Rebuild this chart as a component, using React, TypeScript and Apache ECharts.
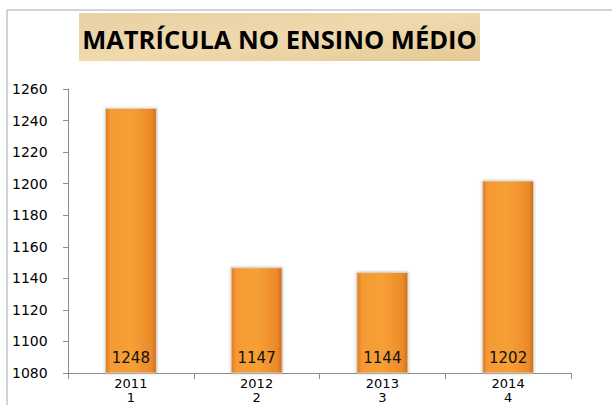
import React, { useEffect, useRef } from "react";
import * as echarts from "echarts";

const title = "MATRÍCULA NO ENSINO MÉDIO";
const years = ["2011", "2012", "2013", "2014"];
const indexes = ["1", "2", "3", "4"];
const values = [1248, 1147, 1144, 1202];
const yMin = 1080;
const yMax = 1260;
const yStep = 20;

export default function App() {
  const ref = useRef<HTMLDivElement>(null);
  useEffect(() => {
    document.body.style.margin = "0";
    const chart = echarts.init(ref.current!, null, { renderer: "svg" });
    const categories = years.map((y, i) => `${y}\n${indexes[i]}`);
    chart.setOption({
      animation: false,
      backgroundColor: "#ffffff",
      graphic: [
        {
          type: "rect",
          shape: { x: 7, y: 10, width: 700, height: 500 },
          style: { fill: "none", stroke: "#a6a6a6", lineWidth: 1 },
          z: 0,
        },
        {
          type: "rect",
          shape: { x: 79, y: 13, width: 401, height: 48 },
          style: {
            fill: new echarts.graphic.LinearGradient(0, 0, 1, 1, [
              { offset: 0, color: "#e8d0a2" },
              { offset: 0.5, color: "#efd9ad" },
              { offset: 1, color: "#e5c993" },
            ]),
          },
          z: 1,
        },
        {
          type: "text",
          x: 279.5,
          y: 39,
          style: {
            text: title,
            fontFamily: "Open Sans",
            fontWeight: "bold",
            fontSize: 25.5,
            fill: "#000000",
            align: "center",
            verticalAlign: "middle",
          },
          z: 2,
        },
      ],
      grid: { left: 68, right: 41, top: 89, bottom: 32 },
      xAxis: {
        type: "category",
        data: categories,
        axisLine: { show: true, lineStyle: { color: "#8c8c8c" } },
        axisTick: { show: true, length: 6, lineStyle: { color: "#8c8c8c" } },
        axisLabel: {
          color: "#000000",
          fontFamily: "DejaVu Sans",
          fontSize: 13,
          lineHeight: 14,
          margin: 3,
        },
      },
      yAxis: {
        type: "value",
        min: yMin,
        max: yMax,
        interval: yStep,
        splitLine: { show: false },
        axisLine: { show: true, lineStyle: { color: "#8c8c8c" } },
        axisTick: { show: true, length: 5, inside: false, lineStyle: { color: "#8c8c8c" } },
        axisLabel: {
          color: "#000000",
          fontFamily: "DejaVu Sans",
          fontSize: 14,
          margin: 56,
          align: "left",
          formatter: (v: number) => String(v),
        },
      },
      series: [
        {
          type: "bar",
          data: values,
          barWidth: 52,
          itemStyle: {
            color: new echarts.graphic.LinearGradient(0, 0, 1, 0, [
              { offset: 0, color: "#e07a22" },
              { offset: 0.1, color: "#f59a35" },
              { offset: 0.5, color: "#f7a035" },
              { offset: 0.9, color: "#ec8a2a" },
              { offset: 1, color: "#cd6e1c" },
            ]),
            borderColor: "#d9d2c8",
            borderWidth: 1,
            shadowColor: "rgba(0,0,0,0.25)",
            shadowBlur: 3,
          },
          label: {
            show: true,
            position: "insideBottom",
            distance: 8,
            color: "#111111",
            fontFamily: "DejaVu Sans",
            fontSize: 15,
          },
        },
      ],
    });
    return () => chart.dispose();
  }, []);
  return (
    <div
      ref={ref}
      style={{ position: "absolute", left: 0, top: 0, width: 612, height: 405 }}
    />
  );
}
